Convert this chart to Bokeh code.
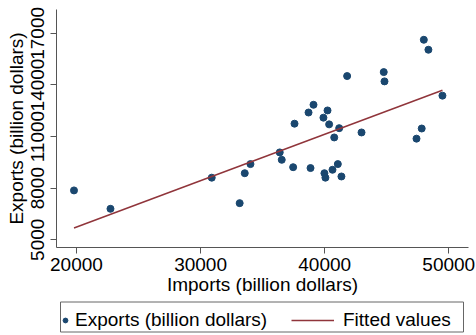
from bokeh.plotting import figure
from bokeh.layouts import column
from bokeh.models import (Range1d, FixedTicker, NumeralTickFormatter, Legend, LegendItem,
                          ColumnDataSource)
from bokeh.embed import file_html
from bokeh.resources import INLINE

# Data
imports = [19800, 22740, 30900, 33150, 33560, 34020, 36380, 36540, 37460, 37570,
           38700, 39100, 38860, 39900, 40230, 40360, 39980, 40060, 40630, 41060,
           41350, 40770, 41170, 41810, 42970, 44760, 44820, 47400, 47820, 47990,
           48360, 49490]
exports = [7870, 6800, 8610, 7130, 8870, 9400, 10080, 9650, 9220, 11750,
           12400, 12850, 9170, 12100, 12520, 11710, 8870, 8610, 9070, 9400,
           8680, 10950, 11490, 14520, 11240, 14750, 14210, 10880, 11470, 16630,
           16050, 13380]
fit_x = [19800, 49490]
fit_y = [5680, 13690]
x_ticks = [20000, 30000, 40000, 50000]
y_ticks = [5000, 8000, 11000, 14000, 17000]
series_labels = ["Exports (billion dollars)", "Fitted values"]

FONT = "Liberation Sans"
FS = "19px"
NAVY = "#1a476f"
MAROON = "#90353b"

# ---- main plot ----
p = figure(width=476, height=300, output_backend="svg", toolbar_location=None,
           x_range=Range1d(18390, 51590), y_range=Range1d(4550, 18390),
           min_border_left=56, min_border_right=8, min_border_top=9, min_border_bottom=53)
p.outline_line_color = None
p.background_fill_color = "white"
p.border_fill_color = "white"
p.grid.visible = False

src = ColumnDataSource(dict(x=imports, y=exports))
p.scatter("x", "y", source=src, size=7, color=NAVY)
p.line(fit_x, fit_y, line_color=MAROON, line_width=1.5)

for ax in (p.xaxis[0], p.yaxis[0]):
    ax.axis_line_color = "#555555"
    ax.major_tick_line_color = "#555555"
    ax.major_tick_out = 6
    ax.major_tick_in = 0
    ax.minor_tick_line_color = None
    ax.major_label_text_font = FONT
    ax.major_label_text_font_size = FS
    ax.major_label_text_color = "black"
    ax.axis_label_text_font = FONT
    ax.axis_label_text_font_size = FS
    ax.axis_label_text_font_style = "normal"
    ax.axis_label_text_color = "black"
    ax.formatter = NumeralTickFormatter(format="0")

p.xaxis[0].ticker = FixedTicker(ticks=x_ticks)
p.yaxis[0].ticker = FixedTicker(ticks=y_ticks)
p.xaxis[0].axis_label = "Imports (billion dollars)"
p.yaxis[0].axis_label = "Exports (billion dollars)"
p.yaxis[0].major_label_orientation = "vertical"
p.xaxis[0].major_label_standoff = 4
p.yaxis[0].major_label_standoff = 6
p.xaxis[0].axis_label_standoff = 0
p.yaxis[0].axis_label_standoff = 2

# ---- legend strip (frame aligned with main frame: x 56..468 in page pixels) ----
lg = figure(width=476, height=35, output_backend="svg", toolbar_location=None,
            x_range=Range1d(56, 468), y_range=Range1d(0, 35),
            x_axis_location=None, y_axis_location=None,
            min_border_left=56, min_border_right=8, min_border_top=0, min_border_bottom=0)
lg.outline_line_color = None
lg.grid.visible = False
lg.background_fill_color = "white"
lg.border_fill_color = "white"

# legend-key renderers (same data, lying outside this strip's range, so only their keys show)
d_pts = lg.scatter(x=imports, y=exports, size=7, color=NAVY)
d_fit = lg.line(x=fit_x, y=fit_y, line_color=MAROON, line_width=1.5)

# legend frame
lg.quad(left=[60], right=[463], bottom=[3.5], top=[33.5],
        fill_color=None, line_color="#666666", line_width=1)

common = dict(orientation="horizontal", label_text_font=FONT, label_text_font_size=FS,
              label_text_color="black", glyph_height=16, label_height=16,
              padding=4, margin=0, border_line_color=None,
              background_fill_alpha=0)
leg1 = Legend(items=[LegendItem(label=series_labels[0], renderers=[d_pts])],
              location=(3, 4), glyph_width=12, label_standoff=4, **common)
leg2 = Legend(items=[LegendItem(label=series_labels[1], renderers=[d_fit])],
              location=(235, 4), glyph_width=43, label_standoff=9, **common)
lg.add_layout(leg1, "center")
lg.add_layout(leg2, "center")

open("out.html", "w").write(file_html(column(p, lg, spacing=0), INLINE))
